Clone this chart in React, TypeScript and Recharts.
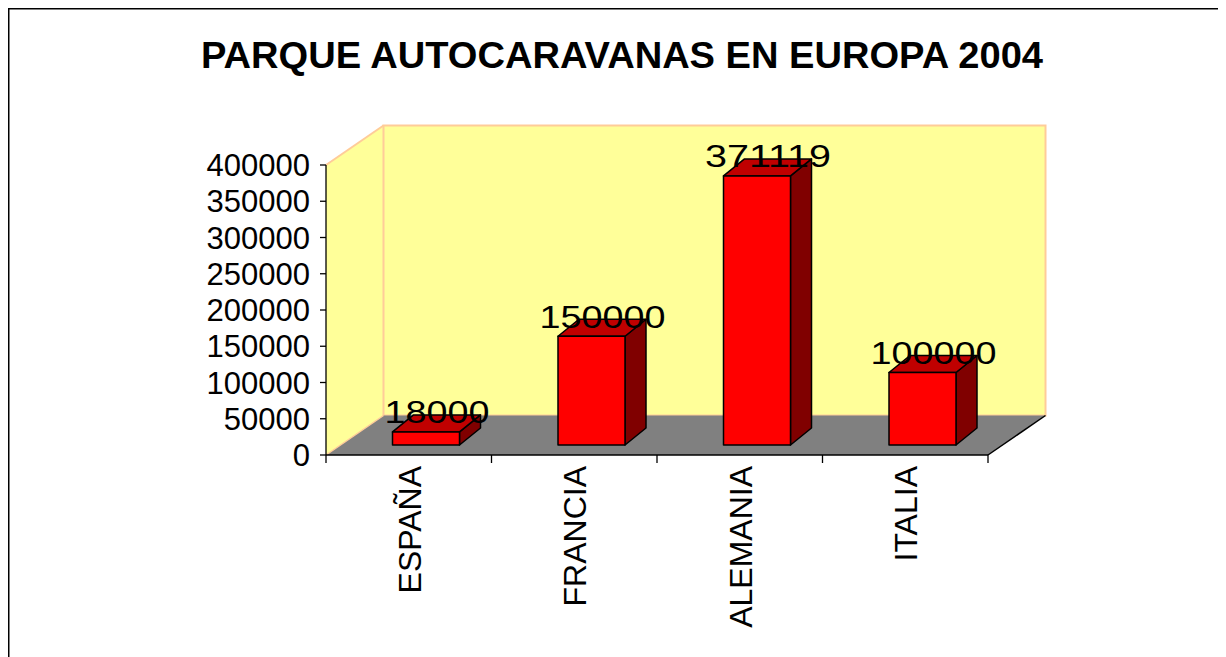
import React from 'react';
import { BarChart, Bar, XAxis, YAxis, ReferenceArea, LabelList } from 'recharts';

const categories = ['ESPAÑA', 'FRANCIA', 'ALEMANIA', 'ITALIA'];
const values = [18000, 150000, 371119, 100000];
const yTicks = [0, 50000, 100000, 150000, 200000, 250000, 300000, 350000, 400000];
const title = 'PARQUE AUTOCARAVANAS EN EUROPA 2004';

const data = categories.map((c, i) => ({ name: c, value: values[i] }));

const FONT = '"Liberation Sans", Arial, Helvetica, sans-serif';
const WALL_DX = 57.5;
const WALL_DY = -39.5;
const BAR_SHIFT_X = 17.5;
const BAR_SHIFT_Y = -10;
const BAR_DX = 21;
const BAR_DY = -17;
const W = 1230;
const H = 660;

function Walls(props: any) {
  const { x, y, width, height } = props;
  const fy = y + height;
  const bx = x + WALL_DX;
  const byTop = y + WALL_DY;
  const byBot = fy + WALL_DY;
  const n = categories.length;
  const ticks = [];
  for (let i = 0; i <= n; i++) {
    const tx = x + (i * width) / n;
    ticks.push(<line key={i} x1={tx} y1={fy} x2={tx} y2={fy + 8} stroke="#000" strokeWidth={1.3} />);
  }
  return (
    <g>
      <polygon points={`${x},${y} ${bx},${byTop} ${bx},${byBot} ${x},${fy}`} fill="#FFFF99" stroke="none" />
      <rect x={bx} y={byTop} width={width} height={byBot - byTop} fill="#FFFF99" stroke="#FFCC99" strokeWidth={2} />
      <line x1={x} y1={y} x2={bx} y2={byTop} stroke="#FFCC99" strokeWidth={2} />
      <polygon points={`${x},${fy} ${x + width},${fy} ${x + width + WALL_DX},${byBot} ${bx},${byBot}`} fill="#808080" stroke="none" />
      <line x1={x} y1={fy} x2={bx} y2={byBot} stroke="#FFCC99" strokeWidth={1.5} />
      <line x1={x + width} y1={fy} x2={x + width + WALL_DX} y2={byBot} stroke="#000" strokeWidth={1.5} />
      {ticks}
    </g>
  );
}

function Box3D(props: any) {
  const { x, y, width, height } = props;
  const fx = x + BAR_SHIFT_X;
  const fy = y + BAR_SHIFT_Y;
  const top = `${fx},${fy} ${fx + BAR_DX},${fy + BAR_DY} ${fx + width + BAR_DX},${fy + BAR_DY} ${fx + width},${fy}`;
  const side = `${fx + width},${fy} ${fx + width + BAR_DX},${fy + BAR_DY} ${fx + width + BAR_DX},${fy + height + BAR_DY} ${fx + width},${fy + height}`;
  return (
    <g strokeLinejoin="round">
      <polygon points={side} fill="#800000" stroke="#000" strokeWidth={1.5} />
      <polygon points={top} fill="#C00000" stroke="#000" strokeWidth={1.5} />
      <rect x={fx} y={fy} width={width} height={height} fill="#FF0000" stroke="#000" strokeWidth={1.5} />
    </g>
  );
}

function ValueLabel(props: any) {
  const { x, y, width, value } = props;
  const s = String(value);
  const cx = x + BAR_SHIFT_X + width / 2 + 11;
  const cy = y + BAR_SHIFT_Y + BAR_DY - 2;
  return (
    <text x={cx} y={cy} textAnchor="middle" dominantBaseline="central" fontSize={31} fontFamily={FONT}
      textLength={21 * s.length} lengthAdjust="spacingAndGlyphs" fill="#000">
      {s}
    </text>
  );
}

function XTick(props: any) {
  const { x, y, payload } = props;
  return (
    <text transform={`rotate(-90, ${x}, ${y})`} x={x} y={y} dy={12} textAnchor="end" fontSize={32} fontFamily={FONT} fill="#000">
      {payload.value}
    </text>
  );
}

export default function App() {
  return (
    <div style={{ position: 'relative', width: W, height: H, background: '#fff' }}>
      <style>{'html,body{overflow:hidden;}'}</style>
      <BarChart width={W} height={H} data={data} margin={{ top: 157, right: W - 980, bottom: 0, left: 0 }} style={{ fontFamily: FONT }}>
        <ReferenceArea y1={0} y2={400000} ifOverflow="visible" shape={(p: any) => <Walls {...p} />} />
        <XAxis dataKey="name" height={H - 447} axisLine={{ stroke: '#000', strokeWidth: 1.3 }} tickLine={false}
          tickSize={8} tickMargin={3} interval={0} tick={(p: any) => <XTick {...p} />} />
        <YAxis width={318} domain={[0, 400000]} ticks={yTicks} interval={0} tickSize={6} tickMargin={10}
          axisLine={{ stroke: '#000', strokeWidth: 1.3 }} tickLine={{ stroke: '#000', strokeWidth: 1.3 }}
          tick={{ fontSize: 31, fill: '#000', fontFamily: FONT }} />
        <Bar dataKey="value" barSize={67} isAnimationActive={false} shape={(p: any) => <Box3D {...p} />}>
          <LabelList dataKey="value" content={(p: any) => <ValueLabel {...p} />} />
        </Bar>
      </BarChart>
      <svg width={W} height={100} style={{ position: 'absolute', left: 0, top: 0, pointerEvents: 'none' }}>
        <text x={614} y={60} textAnchor="middle" fontSize={37} fontWeight="bold" fontFamily={FONT}
          textLength={842} lengthAdjust="spacingAndGlyphs" fill="#000">{title}</text>
      </svg>
      <svg width={W} height={H} style={{ position: 'absolute', left: 0, top: 0, pointerEvents: 'none' }}>
        <line x1={0} y1={0.5} x2={W} y2={0.5} stroke="#000" strokeWidth={2} />
        <line x1={0.5} y1={0} x2={0.5} y2={H} stroke="#000" strokeWidth={2} />
      </svg>
    </div>
  );
}
